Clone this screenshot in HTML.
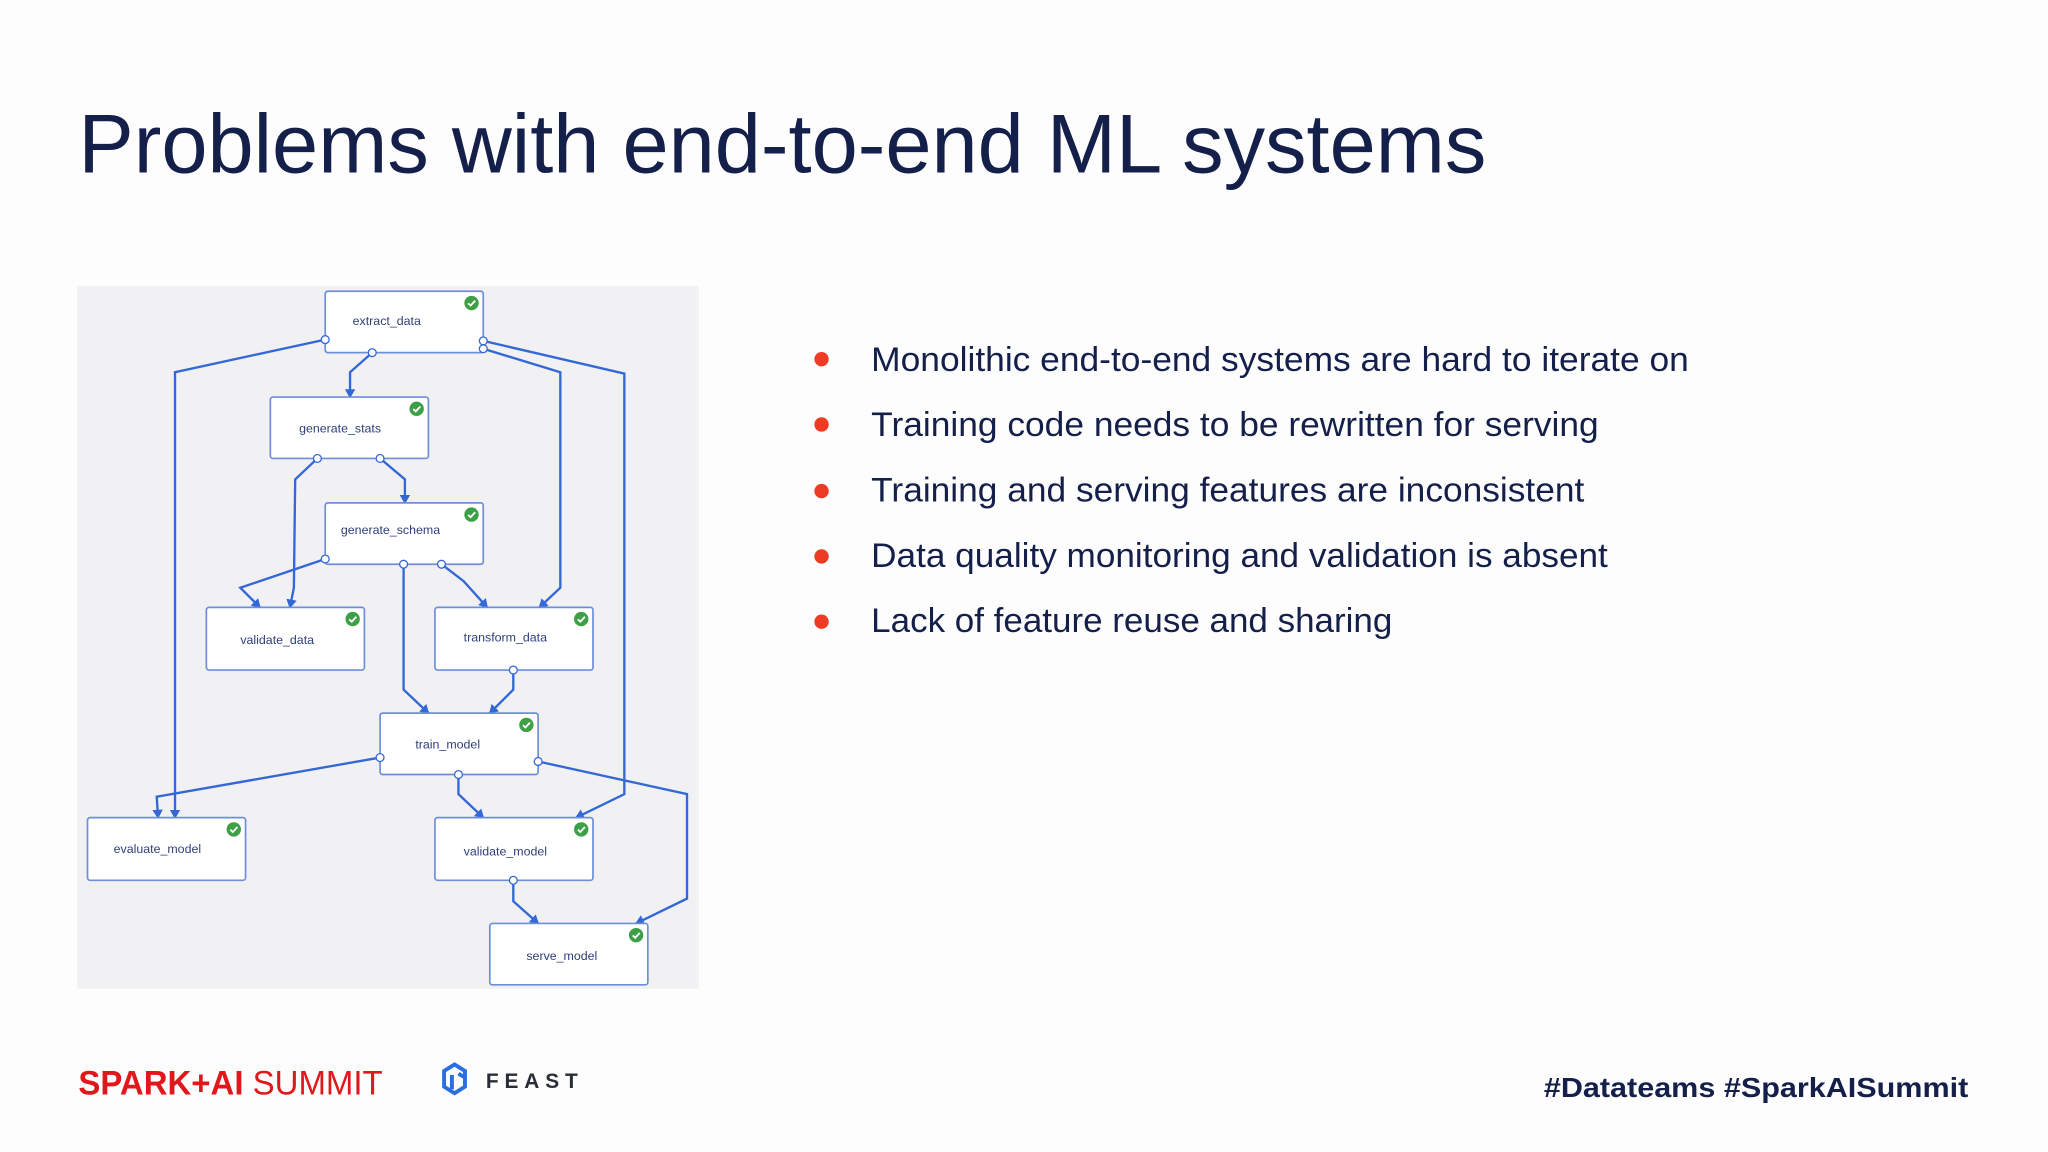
<!DOCTYPE html>
<html><head><meta charset="utf-8"><style>html,body{margin:0;padding:0;background:#fdfdfe;}svg{display:block}</style></head>
<body>
<svg width="2048" height="1152" viewBox="0 0 1568 882" xmlns="http://www.w3.org/2000/svg" font-family="Liberation Sans, sans-serif">
<defs>
<marker id="a" markerWidth="8" markerHeight="8" refX="6" refY="4" orient="auto" markerUnits="userSpaceOnUse"><path d="M0,0 L7,4 L0,8 z" fill="#3468d6"/></marker>
<g id="ck"><circle cx="0" cy="0" r="5.5" fill="#3ea046"/><path d="M-2.6,0.2 L-0.7,2 L2.8,-1.8" fill="none" stroke="#fff" stroke-width="1.4"/></g>
</defs>
<rect width="1568" height="882" fill="#fdfdfe"/>
<text x="60" y="132" font-size="64" fill="#141f4a" textLength="1078" lengthAdjust="spacingAndGlyphs">Problems with end-to-end ML systems</text>
<g fill="#ef3b24">
<circle cx="629" cy="275" r="5.5"/><circle cx="629" cy="325" r="5.5"/><circle cx="629" cy="376" r="5.5"/><circle cx="629" cy="426" r="5.5"/><circle cx="629" cy="476" r="5.5"/>
</g>
<g font-size="26" fill="#141f4a">
<text x="667" y="284" textLength="626" lengthAdjust="spacingAndGlyphs">Monolithic end-to-end systems are hard to iterate on</text>
<text x="667" y="334" textLength="557" lengthAdjust="spacingAndGlyphs">Training code needs to be rewritten for serving</text>
<text x="667" y="384" textLength="546" lengthAdjust="spacingAndGlyphs">Training and serving features are inconsistent</text>
<text x="667" y="434" textLength="564" lengthAdjust="spacingAndGlyphs">Data quality monitoring and validation is absent</text>
<text x="667" y="484" textLength="399" lengthAdjust="spacingAndGlyphs">Lack of feature reuse and sharing</text>
</g>
<rect x="59" y="219" width="476" height="538" fill="#f1f1f3"/>
<g fill="none" stroke="#3468d6" stroke-width="1.8" marker-end="url(#a)">
<path d="M249,260 L134,285 L134,626"/>
<path d="M285,270 L268,285 L268,304"/>
<path d="M370,267 L429,285 L429,450 L413,465"/>
<path d="M370,261 L478,286 L478,608 L441,626"/>
<path d="M243,351 L226,367 L225,450 L222,465"/>
<path d="M291,351 L310,367 L310,385"/>
<path d="M249,428 L184,450 L199,465"/>
<path d="M309,432 L309,528 L328,546"/>
<path d="M338,432 L355,445 L373,465"/>
<path d="M393,513 L393,528 L375,546"/>
<path d="M291,580 L120,610 L121,626"/>
<path d="M351,593 L351,608 L370,626"/>
<path d="M412,583 L526,608 L526,688 L487,707"/>
<path d="M393,674 L393,690 L412,707"/>
</g>
<g font-size="9.5" fill="#2f3f7a">
<g transform="translate(249,223)"><rect width="121" height="47" rx="2" fill="#fff" stroke="#6e8fd8" stroke-width="1.3"/><text x="21" y="26">extract_data</text><use href="#ck" x="112" y="9"/></g>
<g transform="translate(207,304)"><rect width="121" height="47" rx="2" fill="#fff" stroke="#6e8fd8" stroke-width="1.3"/><text x="22" y="27">generate_stats</text><use href="#ck" x="112" y="9"/></g>
<g transform="translate(249,385)"><rect width="121" height="47" rx="2" fill="#fff" stroke="#6e8fd8" stroke-width="1.3"/><text x="12" y="24">generate_schema</text><use href="#ck" x="112" y="9"/></g>
<g transform="translate(158,465)"><rect width="121" height="48" rx="2" fill="#fff" stroke="#6e8fd8" stroke-width="1.3"/><text x="26" y="28">validate_data</text><use href="#ck" x="112" y="9"/></g>
<g transform="translate(333,465)"><rect width="121" height="48" rx="2" fill="#fff" stroke="#6e8fd8" stroke-width="1.3"/><text x="22" y="26">transform_data</text><use href="#ck" x="112" y="9"/></g>
<g transform="translate(291,546)"><rect width="121" height="47" rx="2" fill="#fff" stroke="#6e8fd8" stroke-width="1.3"/><text x="27" y="27">train_model</text><use href="#ck" x="112" y="9"/></g>
<g transform="translate(67,626)"><rect width="121" height="48" rx="2" fill="#fff" stroke="#6e8fd8" stroke-width="1.3"/><text x="20" y="27">evaluate_model</text><use href="#ck" x="112" y="9"/></g>
<g transform="translate(333,626)"><rect width="121" height="48" rx="2" fill="#fff" stroke="#6e8fd8" stroke-width="1.3"/><text x="22" y="29">validate_model</text><use href="#ck" x="112" y="9"/></g>
<g transform="translate(375,707)"><rect width="121" height="47" rx="2" fill="#fff" stroke="#6e8fd8" stroke-width="1.3"/><text x="28" y="28">serve_model</text><use href="#ck" x="112" y="9"/></g>
</g>
<g fill="#fff" stroke="#3468d6" stroke-width="1">
<circle cx="249" cy="260" r="3"/><circle cx="285" cy="270" r="3"/><circle cx="370" cy="261" r="3"/><circle cx="370" cy="267" r="3"/>
<circle cx="243" cy="351" r="3"/><circle cx="291" cy="351" r="3"/>
<circle cx="249" cy="428" r="3"/><circle cx="309" cy="432" r="3"/><circle cx="338" cy="432" r="3"/>
<circle cx="393" cy="513" r="3"/>
<circle cx="291" cy="580" r="3"/><circle cx="351" cy="593" r="3"/><circle cx="412" cy="583" r="3"/>
<circle cx="393" cy="674" r="3"/>
</g>
<text x="60" y="838" font-size="26" fill="#e0181b" textLength="233" lengthAdjust="spacingAndGlyphs"><tspan font-weight="bold">SPARK+AI</tspan> SUMMIT</text>
<g fill="none" stroke="#2a6fe0" stroke-width="3">
<path d="M340,820 L348,815 L356,820 L356,832 L348,837 L340,832 Z"/>
<path d="M346,823 L346,834 M351,822 L356,825"/>
</g>
<text x="372" y="833" font-size="16" font-weight="bold" fill="#2a2d35" letter-spacing="4.5">FEAST</text>
<text x="1182" y="840" font-size="21" font-weight="bold" fill="#141f4a" textLength="325" lengthAdjust="spacingAndGlyphs">#Datateams  #SparkAISummit</text>
</svg>
</body></html>
